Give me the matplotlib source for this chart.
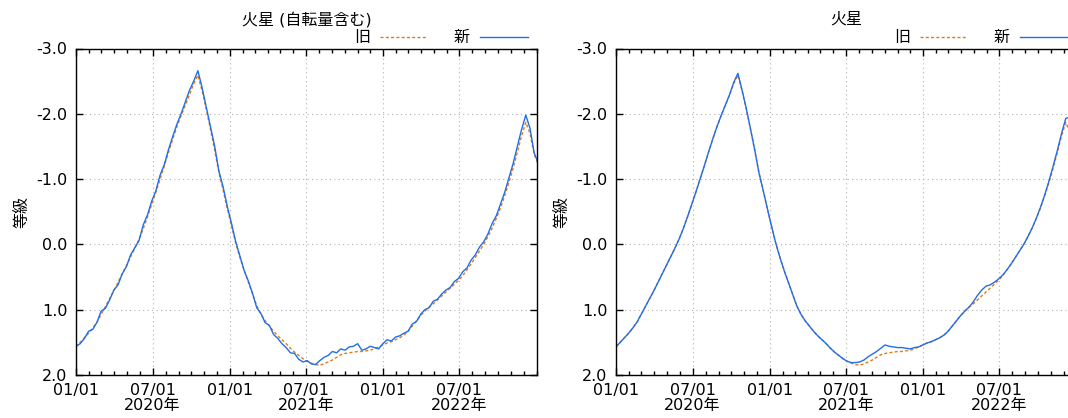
import numpy as np
import pandas as pd
import matplotlib
matplotlib.use("Agg")
import matplotlib.pyplot as plt
import matplotlib.dates as mdates
from matplotlib.lines import Line2D

plt.rcParams['font.family'] = ['DejaVu Sans', 'Noto Sans CJK JP']
plt.rcParams['axes.unicode_minus'] = False
plt.rcParams['font.size'] = 11.5

# 10日おきの日付 (2020-01-01 から)
dates = pd.date_range("2020-01-01", periods=111, freq="10D")

# 旧 (両パネル共通)
old = [
    1.57, 1.50, 1.43, 1.36, 1.28, 1.19, 1.07, 0.95, 0.83, 0.71,
    0.58, 0.45, 0.32, 0.19, 0.06, -0.08, -0.24, -0.42, -0.61, -0.80,
    -1.00, -1.20, -1.41, -1.61, -1.80, -1.97, -2.13, -2.29, -2.46, -2.59,
    -2.35, -2.07, -1.76, -1.44, -1.10, -0.83, -0.55, -0.28, -0.02, 0.20,
    0.40, 0.58, 0.76, 0.94, 1.07, 1.17, 1.25, 1.33, 1.40, 1.46,
    1.52, 1.59, 1.65, 1.70, 1.75, 1.79, 1.82, 1.84, 1.85, 1.83,
    1.80, 1.77, 1.73, 1.69, 1.67, 1.66, 1.65, 1.64, 1.64, 1.63,
    1.62, 1.60, 1.57, 1.54, 1.51, 1.49, 1.46, 1.43, 1.39, 1.33,
    1.25, 1.17, 1.09, 1.02, 0.96, 0.91, 0.85, 0.79, 0.73, 0.67,
    0.61, 0.55, 0.48, 0.39, 0.30, 0.20, 0.10, 0.00, -0.12, -0.25,
    -0.40, -0.56, -0.75, -0.95, -1.17, -1.41, -1.66, -1.87, -1.70, -1.38,
    -1.22,
]

# 新 (自転量含む)
new_rot = [
    1.56, 1.52, 1.44, 1.33, 1.30, 1.19, 1.02, 0.98, 0.85, 0.70,
    0.62, 0.45, 0.34, 0.16, 0.05, -0.06, -0.30, -0.45, -0.66, -0.82,
    -1.06, -1.22, -1.45, -1.65, -1.84, -2.00, -2.18, -2.36, -2.50, -2.66,
    -2.40, -2.10, -1.80, -1.50, -1.12, -0.88, -0.58, -0.32, -0.04, 0.18,
    0.40, 0.56, 0.75, 0.97, 1.06, 1.20, 1.24, 1.38, 1.44, 1.52,
    1.58, 1.66, 1.67, 1.76, 1.80, 1.78, 1.83, 1.84, 1.78, 1.73,
    1.70, 1.64, 1.66, 1.60, 1.62, 1.57, 1.56, 1.52, 1.62, 1.60,
    1.56, 1.58, 1.60, 1.52, 1.46, 1.48, 1.42, 1.40, 1.36, 1.33,
    1.22, 1.18, 1.07, 1.00, 0.97, 0.87, 0.84, 0.76, 0.70, 0.66,
    0.57, 0.52, 0.42, 0.36, 0.24, 0.16, 0.04, -0.04, -0.16, -0.32,
    -0.44, -0.62, -0.80, -1.02, -1.24, -1.50, -1.76, -1.98, -1.78, -1.40,
    -1.24,
]

# 新
new = [
    1.57, 1.50, 1.43, 1.36, 1.28, 1.19, 1.07, 0.95, 0.83, 0.71,
    0.58, 0.45, 0.32, 0.19, 0.06, -0.08, -0.24, -0.42, -0.61, -0.80,
    -1.00, -1.20, -1.41, -1.61, -1.80, -1.97, -2.13, -2.29, -2.48, -2.62,
    -2.36, -2.08, -1.77, -1.45, -1.10, -0.83, -0.55, -0.28, -0.02, 0.20,
    0.40, 0.58, 0.76, 0.94, 1.07, 1.17, 1.25, 1.33, 1.40, 1.46,
    1.52, 1.59, 1.65, 1.70, 1.75, 1.79, 1.81, 1.81, 1.80, 1.77,
    1.72, 1.68, 1.64, 1.59, 1.54, 1.56, 1.57, 1.58, 1.58, 1.59,
    1.60, 1.58, 1.57, 1.54, 1.51, 1.49, 1.46, 1.43, 1.39, 1.33,
    1.25, 1.17, 1.09, 1.02, 0.96, 0.88, 0.78, 0.70, 0.64, 0.62,
    0.58, 0.53, 0.47, 0.39, 0.30, 0.20, 0.10, 0.00, -0.12, -0.25,
    -0.40, -0.57, -0.76, -0.97, -1.20, -1.44, -1.70, -1.93, -1.95, -1.70,
    -1.50,
]

titles = ["火星 (自転量含む)", "火星"]
series_new = [new_rot, new]

major_ticks = pd.to_datetime(["2020-01-01", "2020-07-01", "2021-01-01",
                              "2021-07-01", "2022-01-01", "2022-07-01"])
major_labels = ["01/01", "07/01\n2020年", "01/01", "07/01\n2021年",
                "01/01", "07/01\n2022年"]

fig = plt.figure(figsize=(10.68, 4.18), dpi=100)
W, H = 1068, 418
ax_w = 460.7
ax_top, ax_bot = 48.5, 375
lefts = [76, 616]

orange = '#e07b1a'
blue = '#1f6feb'

for i in range(2):
    ax = fig.add_axes([lefts[i] / W, 1 - ax_bot / H, ax_w / W, (ax_bot - ax_top) / H])
    ax.plot(dates, old, color=orange, lw=1.0, ls=(0, (2.2, 1.6)))
    ax.plot(dates, series_new[i], color=blue, lw=1.0)

    ax.set_xlim(pd.Timestamp("2020-01-01"), pd.Timestamp("2023-01-01"))
    ax.set_ylim(2.0, -3.0)
    ax.set_yticks(np.arange(-3.0, 2.01, 1.0))
    ax.yaxis.set_major_formatter(matplotlib.ticker.FormatStrFormatter('%.1f'))
    ax.set_xticks(major_ticks)
    ax.set_xticklabels(major_labels, linespacing=1.0)
    ax.xaxis.set_minor_locator(mdates.MonthLocator())

    ax.tick_params(which='both', direction='in', top=True, right=True,
                   width=1.0, colors='black', labelsize=11.5)
    ax.tick_params(which='major', length=5, pad=6)
    ax.tick_params(which='minor', length=3)
    for lab in ax.get_xticklabels():
        lab.set_multialignment('center')

    ax.grid(True, which='major', color='#b0b0b0', lw=0.8, ls=(0, (1, 3)))
    for s in ax.spines.values():
        s.set_linewidth(1.0)
        s.set_color('black')

    ax.set_ylabel("等級", fontsize=11.5)
    ax.yaxis.set_label_coords(-0.102, 0.5)

    ax.text(0.5, 1.09, titles[i], transform=ax.transAxes, ha='center', va='center',
            fontsize=11.5)

    # 凡例 (gnuplot 風)
    ax.text(0.621, 1.035, "旧", transform=ax.transAxes, ha='center', va='center',
            fontsize=11.5)
    ax.add_line(Line2D([0.660, 0.762], [1.035, 1.035], transform=ax.transAxes,
                       color=orange, lw=1.0, ls=(0, (2.2, 1.6)), clip_on=False))
    ax.text(0.836, 1.035, "新", transform=ax.transAxes, ha='center', va='center',
            fontsize=11.5)
    ax.add_line(Line2D([0.877, 0.981], [1.035, 1.035], transform=ax.transAxes,
                       color=blue, lw=1.0, clip_on=False))

fig.savefig("out.png", dpi=100)
